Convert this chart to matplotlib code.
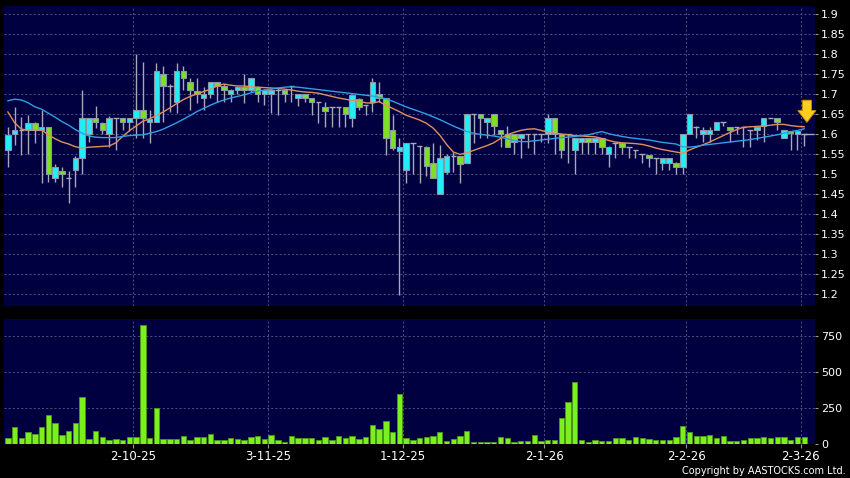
import matplotlib
matplotlib.use('Agg')
import matplotlib.pyplot as plt
import numpy as np

# daily candles, 4-9-25 .. 2-3-26
opens = [1.56, 1.60, 1.61, 1.61, 1.628, 1.61, 1.618, 1.491, 1.508, 1.49,
         1.51, 1.539, 1.60, 1.639, 1.628, 1.60, 1.64, 1.639, 1.629, 1.64,
         1.66, 1.629, 1.631, 1.749, 1.72, 1.679, 1.758, 1.729, 1.708, 1.689,
         1.70, 1.729, 1.72, 1.70, 1.71, 1.718, 1.71, 1.718, 1.70, 1.70,
         1.71, 1.71, 1.72, 1.689, 1.699, 1.689, 1.68, 1.668, 1.668, 1.668,
         1.668, 1.639, 1.688, 1.672, 1.679, 1.699, 1.689, 1.61, 1.558, 1.51,
         1.578, 1.57, 1.568, 1.528, 1.45, 1.505, 1.545, 1.545, 1.528, 1.649,
         1.649, 1.629, 1.649, 1.61, 1.60, 1.599, 1.589, 1.599, 1.599, 1.60,
         1.601, 1.639, 1.599, 1.599, 1.56, 1.579, 1.589, 1.579, 1.589, 1.549,
         1.578, 1.578, 1.568, 1.56, 1.549, 1.548, 1.539, 1.528, 1.528, 1.528,
         1.518, 1.60, 1.618, 1.60, 1.60, 1.61, 1.629, 1.618, 1.618, 1.618,
         1.61, 1.61, 1.62, 1.639, 1.639, 1.59, 1.608, 1.60, 1.60]
highs = [1.618, 1.668, 1.643, 1.648, 1.63, 1.66, 1.618, 1.525, 1.518, 1.508,
         1.545, 1.71, 1.64, 1.67, 1.63, 1.645, 1.64, 1.64, 1.64, 1.80,
         1.78, 1.66, 1.778, 1.77, 1.725, 1.778, 1.77, 1.74, 1.74, 1.718,
         1.73, 1.73, 1.725, 1.712, 1.72, 1.75, 1.74, 1.72, 1.712, 1.712,
         1.715, 1.712, 1.72, 1.70, 1.70, 1.69, 1.68, 1.68, 1.668, 1.668,
         1.668, 1.70, 1.69, 1.672, 1.74, 1.73, 1.69, 1.648, 1.59, 1.578,
         1.578, 1.57, 1.57, 1.578, 1.572, 1.55, 1.555, 1.545, 1.65, 1.649,
         1.649, 1.639, 1.649, 1.61, 1.62, 1.60, 1.60, 1.60, 1.60, 1.60,
         1.65, 1.639, 1.60, 1.60, 1.59, 1.59, 1.59, 1.59, 1.59, 1.57,
         1.578, 1.578, 1.568, 1.56, 1.549, 1.548, 1.539, 1.539, 1.539, 1.53,
         1.60, 1.65, 1.62, 1.618, 1.618, 1.63, 1.629, 1.618, 1.618, 1.618,
         1.61, 1.62, 1.639, 1.64, 1.639, 1.61, 1.608, 1.608, 1.60]
lows = [1.518, 1.572, 1.548, 1.55, 1.578, 1.478, 1.48, 1.479, 1.468, 1.428,
        1.468, 1.50, 1.58, 1.614, 1.60, 1.568, 1.56, 1.61, 1.607, 1.59,
        1.59, 1.578, 1.63, 1.631, 1.655, 1.652, 1.71, 1.66, 1.677, 1.66,
        1.69, 1.68, 1.68, 1.68, 1.70, 1.677, 1.705, 1.68, 1.672, 1.652,
        1.648, 1.68, 1.68, 1.67, 1.68, 1.648, 1.627, 1.618, 1.618, 1.618,
        1.618, 1.618, 1.66, 1.648, 1.655, 1.68, 1.548, 1.56, 1.198, 1.478,
        1.50, 1.478, 1.495, 1.489, 1.45, 1.50, 1.505, 1.478, 1.528, 1.578,
        1.59, 1.59, 1.598, 1.568, 1.568, 1.551, 1.539, 1.565, 1.55, 1.58,
        1.578, 1.549, 1.539, 1.528, 1.50, 1.549, 1.549, 1.549, 1.549, 1.518,
        1.539, 1.549, 1.539, 1.539, 1.528, 1.518, 1.50, 1.51, 1.51, 1.50,
        1.50, 1.60, 1.589, 1.58, 1.58, 1.61, 1.62, 1.58, 1.60, 1.568,
        1.568, 1.585, 1.58, 1.639, 1.61, 1.59, 1.56, 1.56, 1.57]
closes = [1.598, 1.609, 1.61, 1.628, 1.61, 1.618, 1.50, 1.518, 1.50, 1.49,
          1.539, 1.639, 1.639, 1.629, 1.61, 1.639, 1.64, 1.629, 1.639, 1.66,
          1.64, 1.637, 1.758, 1.72, 1.72, 1.758, 1.739, 1.71, 1.70, 1.699,
          1.729, 1.721, 1.71, 1.71, 1.718, 1.71, 1.739, 1.70, 1.71, 1.71,
          1.71, 1.70, 1.72, 1.699, 1.689, 1.679, 1.68, 1.658, 1.668, 1.668,
          1.649, 1.697, 1.668, 1.672, 1.729, 1.689, 1.589, 1.565, 1.568, 1.578,
          1.578, 1.57, 1.52, 1.489, 1.539, 1.546, 1.545, 1.526, 1.649, 1.649,
          1.639, 1.639, 1.62, 1.60, 1.568, 1.58, 1.599, 1.599, 1.599, 1.60,
          1.639, 1.601, 1.56, 1.599, 1.589, 1.589, 1.579, 1.589, 1.568, 1.568,
          1.578, 1.568, 1.568, 1.56, 1.549, 1.539, 1.539, 1.539, 1.539, 1.518,
          1.599, 1.649, 1.618, 1.61, 1.61, 1.629, 1.629, 1.61, 1.618, 1.618,
          1.61, 1.618, 1.639, 1.639, 1.629, 1.61, 1.602, 1.608, 1.60]

# moving averages
ma_short = [1.655, 1.628, 1.612, 1.61, 1.61, 1.61, 1.598, 1.588, 1.58, 1.575,
            1.568, 1.565, 1.567, 1.568, 1.569, 1.57, 1.578, 1.594, 1.608, 1.62,
            1.632, 1.638, 1.646, 1.655, 1.665, 1.676, 1.686, 1.694, 1.70, 1.706,
            1.712, 1.72, 1.725, 1.722, 1.72, 1.72, 1.718, 1.717, 1.716, 1.715,
            1.714, 1.712, 1.71, 1.707, 1.705, 1.704, 1.702, 1.698, 1.694, 1.69,
            1.687, 1.684, 1.682, 1.678, 1.677, 1.681, 1.672, 1.664, 1.656, 1.647,
            1.641, 1.635, 1.627, 1.615, 1.597, 1.574, 1.555, 1.549, 1.553, 1.559,
            1.565, 1.571, 1.578, 1.589, 1.598, 1.604, 1.609, 1.612, 1.613, 1.609,
            1.605, 1.602, 1.60, 1.598, 1.596, 1.595, 1.594, 1.593, 1.589, 1.584,
            1.58, 1.578, 1.577, 1.576, 1.574, 1.57, 1.565, 1.561, 1.558, 1.555,
            1.552, 1.56, 1.567, 1.573, 1.58, 1.588, 1.596, 1.604, 1.611, 1.617,
            1.618, 1.619, 1.62, 1.622, 1.624, 1.624, 1.621, 1.619, 1.618]
ma_long = [1.683, 1.687, 1.685, 1.678, 1.668, 1.662, 1.652, 1.642, 1.631, 1.622,
           1.611, 1.602, 1.595, 1.592, 1.591, 1.591, 1.591, 1.594, 1.596, 1.597,
           1.598, 1.602, 1.606, 1.612, 1.62, 1.628, 1.637, 1.646, 1.656, 1.664,
           1.672, 1.679, 1.685, 1.69, 1.694, 1.698, 1.703, 1.707, 1.71, 1.712,
           1.715, 1.717, 1.718, 1.717, 1.715, 1.713, 1.711, 1.709, 1.707, 1.705,
           1.703, 1.701, 1.699, 1.697, 1.695, 1.692, 1.688, 1.682, 1.675, 1.668,
           1.662, 1.656, 1.65, 1.643, 1.636, 1.628, 1.62, 1.613, 1.606, 1.602,
           1.599, 1.597, 1.595, 1.592, 1.588, 1.584, 1.581, 1.581, 1.583, 1.585,
           1.587, 1.589, 1.591, 1.592, 1.594, 1.596, 1.598, 1.602, 1.606, 1.601,
           1.597, 1.594, 1.591, 1.589, 1.587, 1.585, 1.582, 1.579, 1.577, 1.575,
           1.568, 1.567, 1.569, 1.572, 1.574, 1.576, 1.578, 1.58, 1.582, 1.584,
           1.586, 1.589, 1.592, 1.595, 1.598, 1.602, 1.606, 1.609, 1.613]

volumes = [39, 118, 35, 79, 67, 113, 199, 143, 60, 88,
           143, 322, 32, 88, 44, 25, 30, 21, 46, 46,
           824, 35, 250, 30, 28, 32, 49, 25, 46, 46,
           67, 21, 21, 37, 30, 25, 44, 53, 30, 56,
           21, 12, 53, 39, 39, 35, 25, 46, 25, 53,
           37, 53, 28, 42, 130, 100, 153, 83, 345, 37,
           23, 39, 44, 53, 83, 16, 30, 53, 86, 12,
           9, 9, 12, 44, 37, 9, 14, 14, 60, 14,
           23, 23, 176, 287, 424, 25, 12, 25, 16, 16,
           37, 37, 23, 44, 39, 30, 21, 23, 23, 42,
           125, 83, 51, 49, 58, 37, 49, 14, 14, 21,
           37, 37, 46, 37, 46, 42, 23, 42, 42]

date_labels = ['2-10-25', '3-11-25', '1-12-25', '2-1-26', '2-2-26', '2-3-26']
date_index = [19, 39, 59, 80, 101, 118]   # bar index of each labelled day

price_ticks = [1.2, 1.25, 1.3, 1.35, 1.4, 1.45, 1.5, 1.55, 1.6, 1.65, 1.7, 1.75, 1.8, 1.85, 1.9]
vol_ticks = [0, 250, 500, 750]

o = np.array(opens)
h = np.array(highs)
l = np.array(lows)
c = np.array(closes)
x = np.arange(len(c))

navy = '#000040'
grid_c = '#5a5a8c'
wick_c = '#a8a8b8'

fig = plt.figure(figsize=(8.5, 4.78), dpi=100, facecolor='black')
ax = fig.add_axes([4 / 850, 1 - 306 / 478, 811 / 850, 300 / 478])
axv = fig.add_axes([4 / 850, 1 - 443.5 / 478, 811 / 850, 124.5 / 478], sharex=ax)

grid_pos = [i - 0.5 for i in date_index]
for a in (ax, axv):
    a.set_facecolor(navy)
    for s in a.spines.values():
        s.set_visible(False)
    a.yaxis.tick_right()
    a.tick_params(axis='y', colors='#9a9a9a', labelcolor='white', length=2.5,
                  width=0.8, labelsize=8, pad=2)
    a.grid(True, color=grid_c, linestyle=(0, (2.5, 2.5)), linewidth=0.6)
    a.set_axisbelow(True)
    a.set_xticks(grid_pos)

# candles
ax.vlines(x, l, h, color=wick_c, lw=1, zorder=2)
up = c > o
dn = c < o
flat = c == o
ax.bar(x[up], (c - o)[up], bottom=o[up], width=0.82, color='#22eef8',
       edgecolor='#8a98a8', linewidth=0.8, zorder=3)
ax.bar(x[dn], (o - c)[dn], bottom=c[dn], width=0.82, color='#7de020',
       edgecolor='#8a98a8', linewidth=0.8, zorder=3)
ax.hlines(c[flat], x[flat] - 0.41, x[flat] + 0.41, color=wick_c, lw=1, zorder=3)
# last price stub to the right edge
ax.hlines(c[-1], x[-1], x[-1] + 1.5, color=wick_c, lw=1, zorder=3)

ax.plot(x, ma_short, color='#e0905e', lw=1, zorder=4)
ax.plot(x, ma_long, color='#2f9fe6', lw=1, zorder=4)

# marker arrow on the latest bar
ax.annotate('', xy=(x[-1] + 0.4, ma_long[-1] + 0.016), xytext=(0, 16),
            textcoords='offset points',
            arrowprops=dict(arrowstyle='simple,head_width=1.3,head_length=0.85,tail_width=0.65',
                            fc='#ffcc22', ec='#d08a00', lw=0.6, shrinkA=0, shrinkB=0),
            zorder=6)

ax.set_xlim(-0.58, 119.6)
ax.set_ylim(1.17, 1.92)
ax.set_yticks(price_ticks)
ax.set_yticklabels([f'{v:g}' for v in price_ticks])
ax.tick_params(axis='x', bottom=False, labelbottom=False)

# volume
axv.bar(x, volumes, width=0.8, color='#7cf01e', edgecolor='#4a9a18', linewidth=0.6, zorder=3)
axv.set_ylim(0, 865)
axv.set_yticks(vol_ticks)
axv.set_xticks(grid_pos)
axv.set_xticklabels(date_labels)
axv.tick_params(axis='x', colors='#9a9a9a', labelcolor='white', length=3,
                width=0.8, labelsize=8.5, pad=2)

fig.text(0.995, 1 - 471 / 478, 'Copyright by AASTOCKS.com Ltd.', ha='right',
         va='center', color='white', fontsize=7)

fig.savefig('out.png', dpi=100, facecolor='black')
